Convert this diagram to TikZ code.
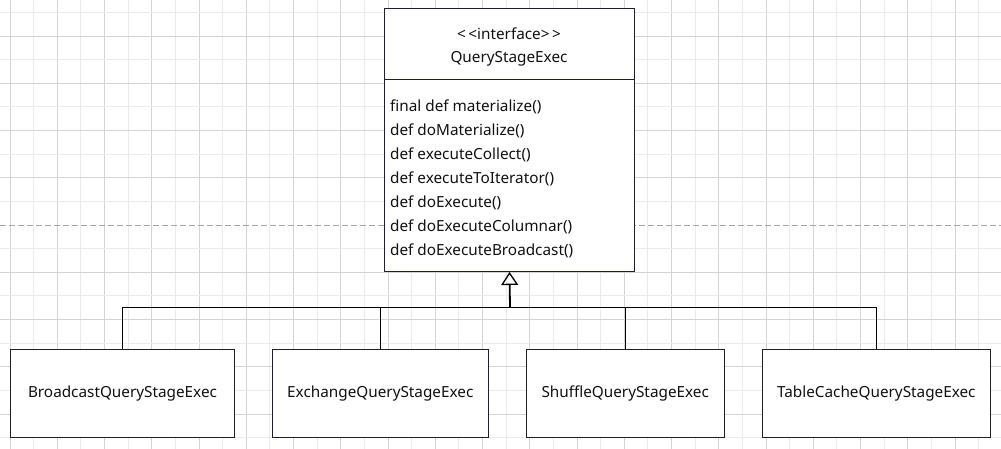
\documentclass[tikz,border=0pt]{standalone}
\usepackage{fontspec}
\setmainfont{Noto Sans}
\usetikzlibrary{arrows.meta}
\definecolor{gridmaj}{HTML}{D4D4D4}
\definecolor{gridmin}{HTML}{EBEBEB}
\definecolor{boxline}{HTML}{1E1E32}
\definecolor{txt}{HTML}{111111}
\tikzset{
  umlbox/.style={draw=boxline, line width=1pt, fill=white, inner sep=0pt},
  child/.style={umlbox, minimum height=88.4pt, font=\fontsize{15.3}{17}\selectfont, text=txt},
  method/.style={anchor=west, inner sep=0pt, font=\fontsize{15.3}{17}\selectfont, text=txt},
  title/.style={inner sep=0pt, font=\fontsize{15.3}{17}\selectfont, text=txt},
  link/.style={draw=black, line width=1.1pt},
}
\begin{document}
\begin{tikzpicture}[x=1pt,y=-1pt]
\useasboundingbox (0,0) rectangle (1001,449);
\fill[white] (0,0) rectangle (1001,449);
% grid
\foreach \i in {0,...,20} {
  \draw[gridmin, line width=0.9pt] ({33.6+47.25*\i},0) -- ({33.6+47.25*\i},449);
  \draw[gridmaj, line width=0.9pt] ({10+47.25*\i},0) -- ({10+47.25*\i},449);
}
\foreach \i in {0,...,9} {
  \draw[gridmin, line width=0.9pt] (0,{12.4+47.25*\i}) -- (1001,{12.4+47.25*\i});
}
\foreach \i in {0,1,2,3,5,6,7,8} {
  \draw[gridmaj, line width=0.9pt] (0,{36+47.25*\i}) -- (1001,{36+47.25*\i});
}
\draw[gray!70, line width=0.9pt, dash pattern=on 6pt off 3pt] (0,225) -- (1001,225);
% main interface box
\node[umlbox, minimum width=250pt, minimum height=263pt, anchor=north west] (main) at (384,8) {};
\coordinate (divl) at (384,80);
\coordinate (divr) at (634,80);
\draw[boxline, line width=1pt] (divl) -- (divr);
\node[title] (stereo) at (509,34) {<\kern2.5pt<interface>\kern2.5pt>};
\node[title] (name) at (509,59) {QueryStageExec};
\node[method] (m1) at (390,107.2) {final def materialize()};
\node[method] (m2) at (390,131.1) {def doMaterialize()};
\node[method] (m3) at (390,155) {def executeCollect()};
\node[method] (m4) at (390,178.9) {def executeToIterator()};
\node[method] (m5) at (390,202.8) {def doExecute()};
\node[method] (m6) at (390,226.7) {def doExecuteColumnar()};
\node[method] (m7) at (390,250.6) {def doExecuteBroadcast()};
% children
\node[child, minimum width=223.6pt] (c1) at (122.5,393.5) {BroadcastQueryStageExec};
\node[child, minimum width=216pt] (c2) at (380.3,393.5) {ExchangeQueryStageExec};
\node[child, minimum width=198.3pt] (c3) at (625.2,393.5) {ShuffleQueryStageExec};
\node[child, minimum width=228pt] (c4) at (876.3,393.5) {TableCacheQueryStageExec};
\coordinate (bus) at (510,307.3);
\draw[link] (c1.north) |- (bus) -| (c4.north);
\draw[link] (c2.north) -- (c2.north |- bus);
\draw[link] (c3.north) -- (c3.north |- bus);
\draw[draw=black, line width=1.8pt, -{Triangle[open, length=13pt, width=17pt, line width=1.3pt]}] (bus) -- (main.south);
\end{tikzpicture}
\end{document}
